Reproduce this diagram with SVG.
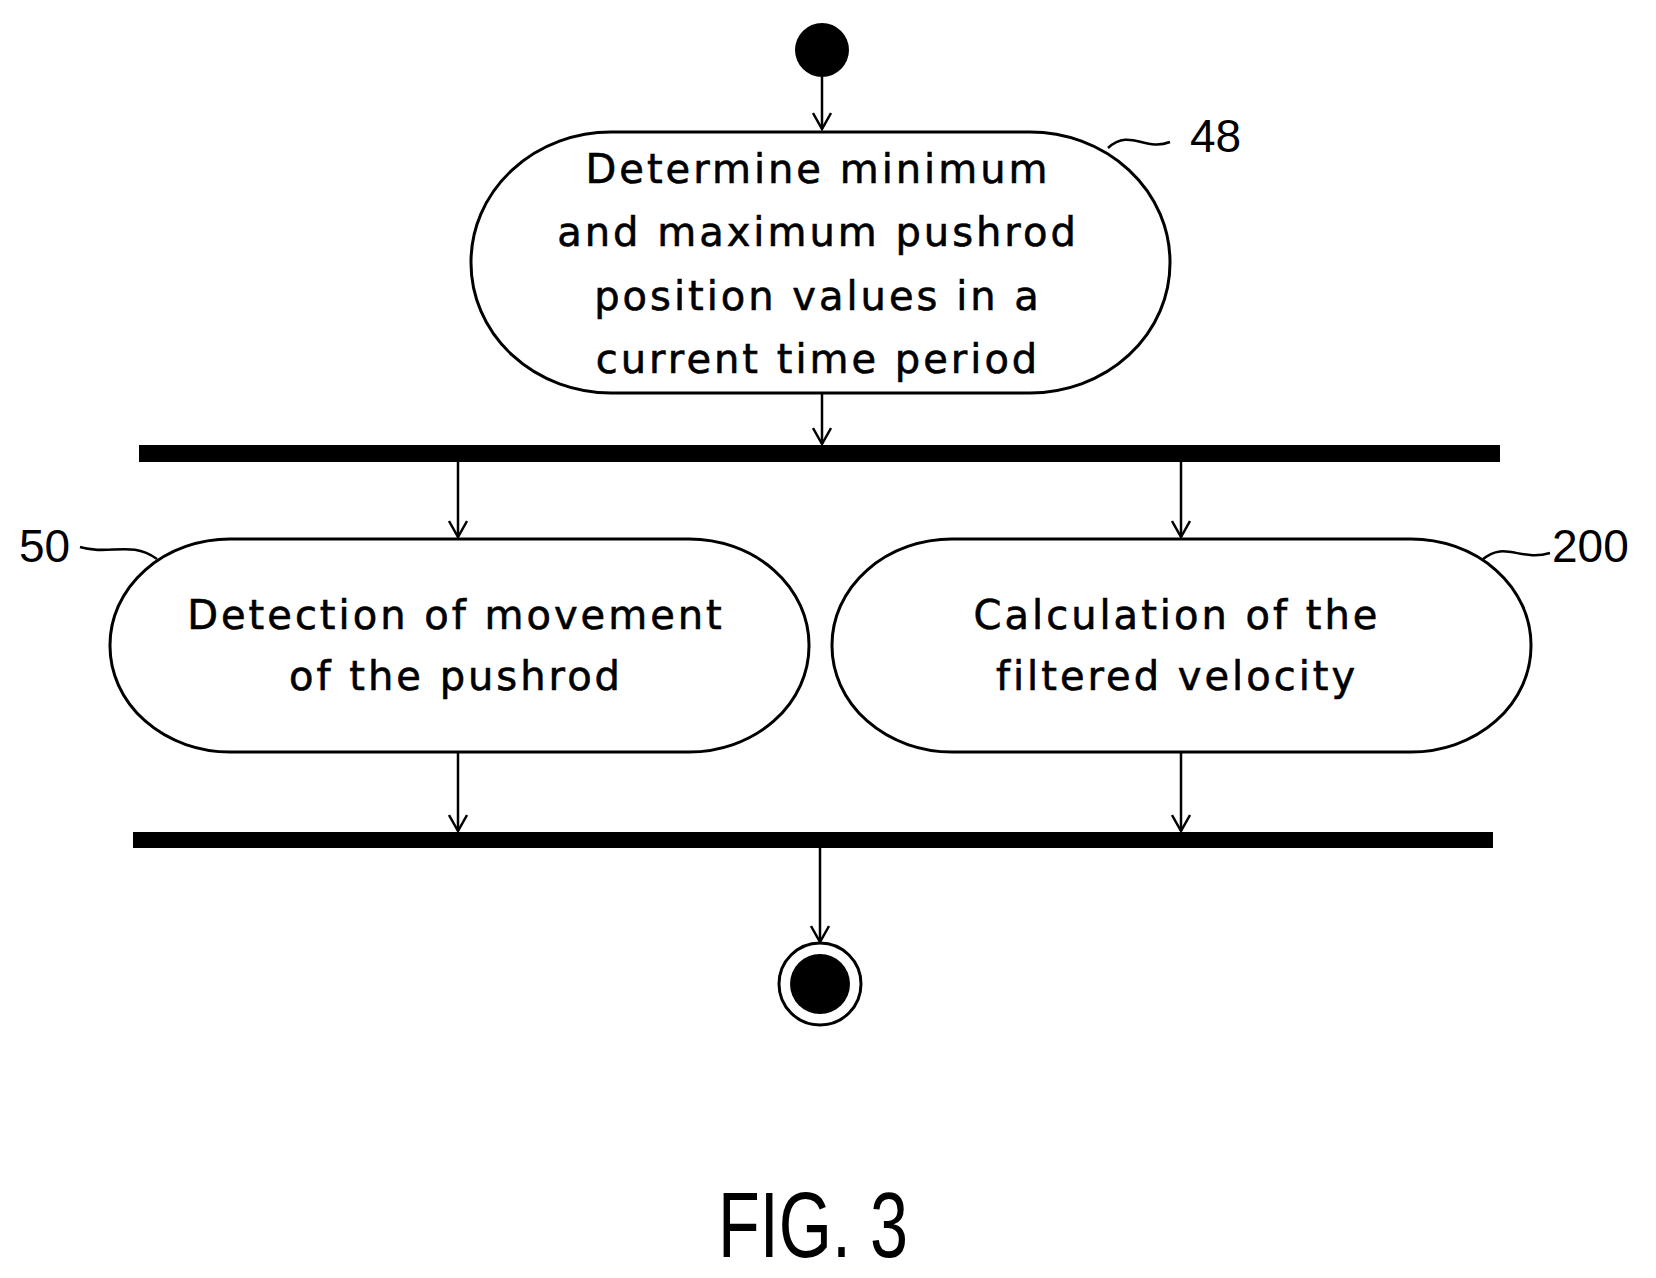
<svg xmlns="http://www.w3.org/2000/svg" width="1656" height="1278" viewBox="0 0 1656 1278">
<defs>
<style>
.n{fill:#fff;stroke:#000;stroke-width:3}
.t{font-family:"DejaVu Sans",sans-serif;font-size:40px;letter-spacing:3px;text-anchor:middle;stroke:#000;stroke-width:0.6}
.l{font-family:"Liberation Sans",sans-serif;font-size:46px}
.c{stroke:#000;stroke-width:2.5;fill:none}
</style>
<marker id="a" viewBox="0 0 20 20" refX="18" refY="10" markerWidth="20" markerHeight="20" markerUnits="userSpaceOnUse" orient="auto"><path d="M2,1 L18,10 L2,19" fill="none" stroke="#000" stroke-width="2.5"/></marker>
</defs>
<rect width="1656" height="1278" fill="#fff"/>
<g id="start"><circle cx="822" cy="50" r="27" fill="#000"/></g>
<g id="n48">
<rect class="n" x="471" y="132" width="699" height="261" rx="140" ry="130"/>
<text class="t" x="818" y="183">Determine minimum</text>
<text class="t" x="818" y="246">and maximum pushrod</text>
<text class="t" x="818" y="310">position values in a</text>
<text class="t" x="818" y="373">current time period</text>
<path class="c" d="M1108,148 C1130,128 1145,152 1170,142"/>
<text class="l" x="1190" y="152">48</text>
</g>
<g id="fork"><rect x="139" y="445" width="1361" height="17" fill="#000"/></g>
<g id="n50">
<rect class="n" x="110" y="539" width="699" height="213" rx="120" ry="106"/>
<text class="t" x="456" y="629">Detection of movement</text>
<text class="t" x="456" y="690">of the pushrod</text>
<path class="c" d="M157,559 C130,540 110,556 80,547"/>
<text class="l" x="19" y="562">50</text>
</g>
<g id="n200">
<rect class="n" x="832" y="539" width="699" height="213" rx="120" ry="106"/>
<text class="t" x="1177" y="629">Calculation of the</text>
<text class="t" x="1177" y="690">filtered velocity</text>
<path class="c" d="M1482,560 C1505,540 1520,562 1550,553"/>
<text class="l" x="1552" y="562">200</text>
</g>
<g id="join"><rect x="133" y="832" width="1360" height="16" fill="#000"/></g>
<g id="end"><circle cx="820" cy="984" r="41" fill="#fff" stroke="#000" stroke-width="3"/><circle cx="820" cy="984" r="30" fill="#000"/></g>
<g id="connectors">
<line class="c" x1="822" y1="77" x2="822" y2="129" marker-end="url(#a)"/>
<line class="c" x1="822" y1="393" x2="822" y2="444" marker-end="url(#a)"/>
<line class="c" x1="458" y1="462" x2="458" y2="537" marker-end="url(#a)"/>
<line class="c" x1="1181" y1="462" x2="1181" y2="537" marker-end="url(#a)"/>
<line class="c" x1="458" y1="752" x2="458" y2="831" marker-end="url(#a)"/>
<line class="c" x1="1181" y1="752" x2="1181" y2="831" marker-end="url(#a)"/>
<line class="c" x1="820" y1="848" x2="820" y2="942" marker-end="url(#a)"/>
</g>
<text x="813" y="1257" font-family="Liberation Sans,sans-serif" font-size="92" text-anchor="middle" textLength="190" lengthAdjust="spacingAndGlyphs">FIG. 3</text>
</svg>
